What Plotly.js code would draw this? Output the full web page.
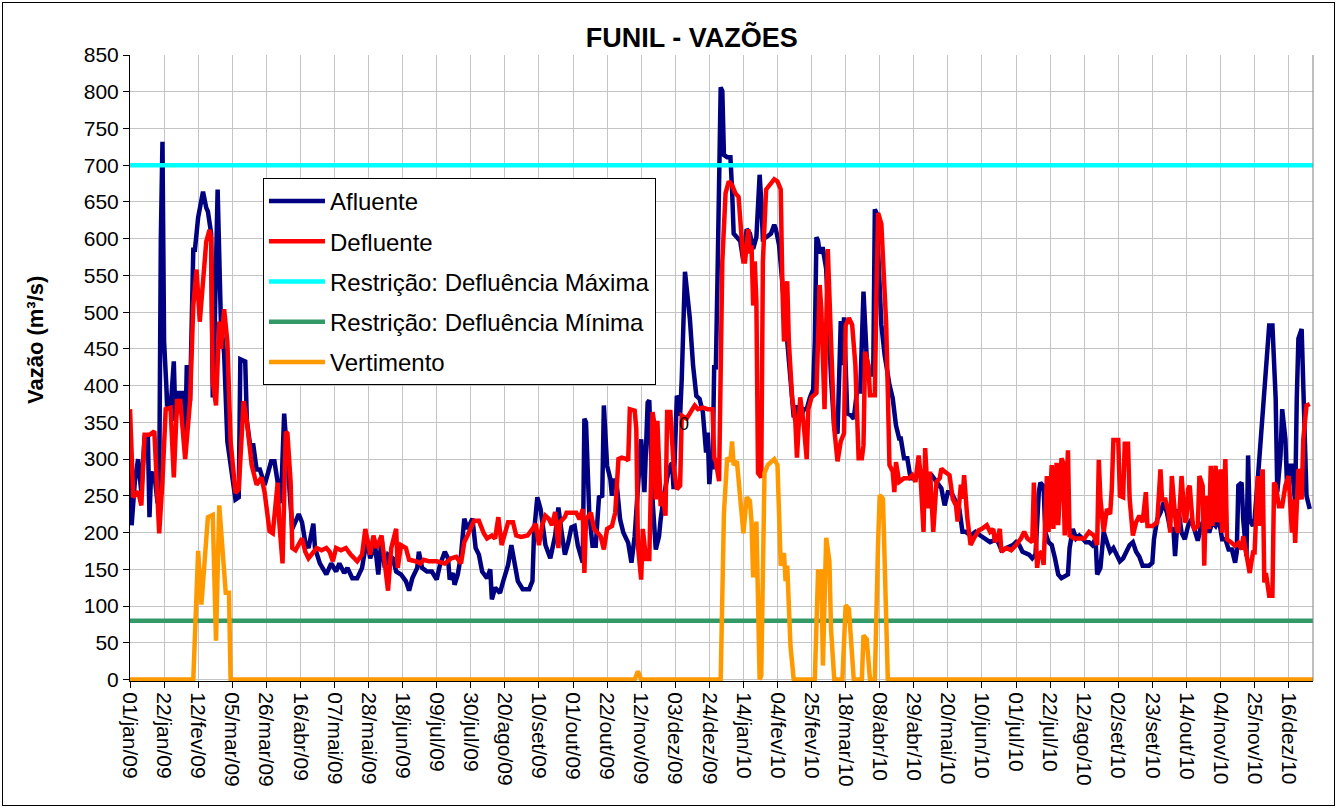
<!DOCTYPE html>
<html>
<head>
<meta charset="utf-8">
<script src="https://cdn.plot.ly/plotly-3.0.1.min.js"></script>
<style>
  body { margin: 0; background: #fff; }
  #grafico { width: 1338px; height: 809px; }
  #moldura { position: absolute; left: 2px; top: 2px; width: 1331px; height: 802px; border: 1px solid #000; pointer-events: none; }
</style>
</head>
<body>
<div id="grafico"></div>
<div id="moldura"></div>
<script>
// dias contados a partir de 01/jan/09
const diasAfluente = [0,1,3,5,7,9,11,12,13,15,17,18,19,20,21,23,25,27,28,30,32,34,35,37,39,40,42,45,47,48,50,51,52,54,56,58,60,63,65,67,68,71,72,74,76,78,80,83,87,89,91,93,95,97,99,100,104,106,108,110,113,114,117,121,124,127,129,132,134,137,140,143,146,148,151,153,155,157,159,162,164,167,170,172,174,177,178,180,183,186,189,191,194,196,197,199,200,202,204,206,208,211,213,215,217,220,222,223,225,228,230,233,235,237,239,242,246,248,249,251,253,256,259,262,264,266,268,270,272,274,276,279,280,281,283,285,287,289,291,292,294,296,297,298,300,302,304,307,309,311,313,315,317,319,320,322,324,326,327,329,332,334,335,337,338,339,340,341,342,345,347,349,351,353,355,356,357,358,359,360,361,362,363,364,365,366,368,370,371,372,374,376,378,380,382,384,386,387,388,389,390,392,395,397,398,400,402,404,405,407,409,411,413,415,417,419,421,422,423,424,425,426,427,429,430,432,434,436,438,439,440,442,444,446,448,450,452,454,456,458,459,460,463,465,468,470,472,474,475,477,479,481,483,486,489,492,494,497,500,502,504,506,508,511,513,515,518,521,524,527,530,533,535,537,540,544,546,548,550,552,554,556,558,560,561,563,564,566,568,570,572,574,576,578,579,581,583,585,587,589,591,593,595,596,598,600,602,604,606,608,610,612,614,616,618,620,622,624,628,630,631,633,635,637,639,641,643,644,646,648,650,652,654,656,658,660,662,665,667,669,671,673,675,677,679,681,682,683,685,686,688,689,690,692,693,695,697,699,700,702,704,706,707,709,710,712,713,715,716,718,719,720,722,723,725,727];
const vazaoAfluente = [327,210,270,300,254,330,333,221,281,280,240,260,600,732,460,373,368,433,352,390,390,319,428,379,585,585,629,664,642,637,607,384,460,667,487,444,324,270,245,248,436,433,352,319,319,286,286,265,297,297,268,240,362,300,250,205,225,214,187,179,212,179,158,143,158,147,158,145,152,138,138,152,192,165,183,143,192,152,170,165,147,143,134,121,138,152,174,152,147,147,136,156,174,165,136,145,129,143,170,219,205,219,179,170,147,138,150,109,125,118,134,156,183,161,134,123,123,134,201,248,232,183,165,196,234,200,170,186,207,209,182,159,355,350,227,182,182,248,250,373,291,273,250,273,264,218,200,186,159,195,264,327,255,377,380,245,177,195,218,250,286,295,259,386,382,359,409,518,555,491,427,386,382,364,309,336,266,297,286,428,422,542,728,806,801,714,711,711,667,607,602,597,569,613,607,586,602,646,687,651,600,602,607,619,613,591,537,493,460,406,357,373,351,368,368,384,395,460,602,597,580,586,586,559,504,411,341,335,488,428,493,362,360,355,392,392,528,437,415,415,640,635,483,442,401,383,346,328,328,301,301,274,274,278,283,278,278,269,260,237,255,255,246,233,201,201,196,201,196,192,187,190,187,176,179,183,187,183,174,172,170,165,170,254,268,263,201,187,183,165,143,138,141,143,179,205,192,196,192,187,187,183,192,143,152,201,187,174,179,170,161,165,174,183,187,174,167,155,155,159,191,218,227,241,227,205,205,168,232,200,191,209,218,205,189,209,218,200,214,209,218,191,191,177,177,159,173,264,268,218,168,305,218,209,218,273,336,386,418,482,482,382,255,305,368,327,264,291,291,241,382,464,477,382,250,232];

const diasDefluente = [0,1,2,5,7,9,12,15,17,18,20,22,25,27,29,31,34,37,39,41,43,45,47,49,50,51,53,55,56,58,60,62,65,67,70,72,75,78,81,83,86,88,91,92,94,95,96,97,99,100,102,106,108,110,112,115,118,121,123,125,127,130,133,136,140,143,145,148,150,152,155,157,159,161,164,165,167,170,172,176,179,181,184,189,194,198,201,204,206,208,212,215,218,220,223,225,227,229,231,233,236,238,241,245,248,250,252,254,256,258,260,262,264,265,268,269,272,275,277,279,280,281,284,286,288,290,292,294,297,299,301,303,306,307,308,311,312,313,315,316,318,320,322,323,324,325,327,328,330,331,333,335,337,339,340,343,346,348,350,353,356,359,360,361,363,364,365,367,369,371,373,375,376,378,379,381,382,383,384,385,386,387,389,390,392,394,397,399,401,402,403,404,405,406,408,410,411,413,415,417,418,420,423,425,426,428,429,430,432,434,436,438,440,441,443,445,447,448,449,451,452,453,455,456,459,460,461,463,466,467,468,470,471,472,474,477,480,482,484,486,487,489,490,492,493,495,497,499,500,502,505,507,509,510,512,513,514,516,518,520,523,525,528,530,532,533,535,536,537,540,543,546,549,551,553,556,557,559,560,562,563,564,565,566,568,569,571,572,574,575,576,578,579,582,585,588,591,594,596,597,598,600,602,604,605,606,609,610,612,613,615,616,618,620,622,624,626,627,630,633,635,636,638,640,641,642,644,645,646,648,650,651,652,653,655,656,658,659,661,662,663,665,666,667,669,670,672,673,675,676,679,681,683,685,686,688,690,692,693,695,696,698,699,700,701,702,704,705,706,708,710,712,714,716,717,718,720,721,722,723,725,727];
const vazaoDefluente = [368,297,248,256,237,333,333,338,243,199,270,368,370,275,379,379,300,379,509,558,487,536,596,612,601,406,373,487,450,504,460,324,254,259,379,352,292,265,275,254,202,199,268,214,158,246,337,335,268,179,176,192,174,165,170,179,176,179,174,161,179,176,179,170,161,170,205,170,196,179,196,152,121,179,205,152,183,179,163,161,158,163,161,161,158,165,167,158,187,196,216,216,199,192,196,192,221,183,201,214,214,196,194,196,205,212,183,210,223,219,210,228,179,214,221,227,227,227,218,232,145,218,227,205,200,195,177,205,209,227,300,302,300,298,368,366,341,182,136,205,164,164,364,350,245,352,236,255,223,364,364,291,259,264,359,355,366,373,368,370,368,368,302,297,270,406,569,662,678,673,662,657,629,569,569,613,580,591,509,569,515,281,275,569,667,673,681,678,667,537,460,526,542,460,384,351,302,384,351,300,368,384,390,537,504,368,450,586,460,341,297,324,335,482,492,483,428,378,301,301,319,446,428,387,387,528,635,620,483,392,292,283,255,296,269,274,274,278,269,305,283,201,315,233,283,201,269,274,287,283,278,246,237,215,265,246,278,219,183,192,203,205,210,201,205,187,196,205,174,179,176,183,192,201,192,187,268,152,170,174,156,214,277,201,292,205,295,210,301,295,196,312,196,192,192,192,201,196,183,299,246,201,232,225,259,326,326,250,248,321,321,246,196,214,223,214,255,209,209,214,286,245,245,227,200,277,223,205,200,277,214,218,259,264,209,205,209,277,264,155,250,205,291,209,291,214,286,200,300,191,186,182,186,177,195,173,145,173,173,277,209,286,132,145,127,114,114,268,264,236,236,264,277,200,245,186,286,282,245,327,373,375];

const diasVertimento = [0,39,42,44,48,51,53,55,59,61,62,311,313,315,364,366,368,370,371,372,374,376,378,380,382,383,384,386,387,388,389,391,393,395,397,399,401,403,404,405,407,409,422,424,426,427,429,431,432,434,439,441,443,446,451,452,454,456,459,461,462,464,465,467,729];
const vazaoVertimento = [0,0,175,102,221,224,53,237,118,118,0,0,11,0,0,226,302,297,324,292,297,253,199,248,243,215,139,215,79,0,5,281,292,297,300,292,155,172,134,155,46,0,0,147,147,19,193,161,68,0,0,101,96,0,0,60,55,0,0,187,251,246,165,0,0];

const restricaoMaxima = 700;
const restricaoMinima = 80;
const diaInicial = 0;
const diaFinal = 729;

const diasRotulos = [0,21,42,63,84,105,126,147,168,189,210,231,252,273,294,315,336,357,378,399,420,441,462,483,504,525,546,567,588,609,630,651,672,693,714];
const rotulosDatas = ['01/jan/09','22/jan/09','12/fev/09','05/mar/09','26/mar/09','16/abr/09','07/mai/09','28/mai/09','18/jun/09','09/jul/09','30/jul/09','20/ago/09','10/set/09','01/out/09','22/out/09','12/nov/09','03/dez/09','24/dez/09','14/jan/10','04/fev/10','25/fev/10','18/mar/10','08/abr/10','29/abr/10','20/mai/10','10/jun/10','01/jul/10','22/jul/10','12/ago/10','02/set/10','23/set/10','14/out/10','04/nov/10','25/nov/10','16/dez/10'];

const fonte = 'Liberation Sans, Arial, sans-serif';

function serie(nome, dias, valores, cor) {
    return {
        x: dias,
        y: valores,
        type: 'scatter',
        mode: 'lines',
        name: nome,
        legendgroup: nome,
        line: { color: cor, width: 4.5 },
        hoverinfo: 'skip'
    };
}

const traces = [
    serie('Afluente', diasAfluente, vazaoAfluente, '#000080'),
    serie('Defluente', diasDefluente, vazaoDefluente, '#FF0000'),
    serie('Restrição: Defluência Máxima', [diaInicial, diaFinal], [restricaoMaxima, restricaoMaxima], '#00FFFF'),
    serie('Restrição: Defluência Mínima', [diaInicial, diaFinal], [restricaoMinima, restricaoMinima], '#339966'),
    serie('Vertimento', diasVertimento, vazaoVertimento, '#FF9900')
];

const layout = {
    width: 1338,
    height: 809,
    margin: { l: 130, r: 25, t: 55, b: 128, pad: 0 },
    paper_bgcolor: '#fff',
    plot_bgcolor: '#fff',
    font: { family: fonte, color: '#000' },
    title: {
        text: '<b>FUNIL - VAZÕES</b>',
        font: { family: fonte, size: 27, color: '#000' },
        xref: 'container', x: 0.517, xanchor: 'center',
        yref: 'container', y: 0.953, yanchor: 'middle'
    },
    xaxis: {
        range: [diaInicial, diaFinal],
        tickmode: 'array',
        tickvals: diasRotulos,
        ticktext: rotulosDatas,
        tickangle: 90,
        tickfont: { family: fonte, size: 21, color: '#000' },
        ticks: 'outside', ticklen: 6, tickcolor: '#000',
        showline: true, linecolor: '#000', linewidth: 1,
        showgrid: true, gridcolor: '#c4c4c4', gridwidth: 1,
        zeroline: false
    },
    yaxis: {
        range: [-2, 850],
        dtick: 50,
        tickfont: { family: fonte, size: 21, color: '#000' },
        ticks: 'outside', ticklen: 6, tickcolor: '#000',
        showline: true, linecolor: '#000', linewidth: 1,
        showgrid: true, gridcolor: '#c4c4c4', gridwidth: 1,
        zeroline: false
    },
    legend: {
        x: 0.1124, y: 0.8035, xanchor: 'left', yanchor: 'top',
        bgcolor: '#fff', bordercolor: '#000', borderwidth: 1,
        font: { family: fonte, size: 24, color: '#000' },
        traceorder: 'grouped', tracegroupgap: 6,
        itemwidth: 56
    },
    shapes: [
        { type: 'line', xref: 'paper', yref: 'paper', x0: 1, x1: 1, y0: 0, y1: 1, line: { color: '#808080', width: 1 } }
    ],
    annotations: [
        { x: 341.5, y: 348, text: '0', showarrow: false, font: { family: fonte, size: 18, color: '#000' } },
        {
            xref: 'paper', yref: 'paper', x: -0.0803, y: 0.5447,
            xanchor: 'center', yanchor: 'middle', textangle: -90, showarrow: false,
            text: '<b>Vazão (m³/s)</b>', font: { family: fonte, size: 22, color: '#000' }
        }
    ],
    showlegend: true
};

Plotly.newPlot('grafico', traces, layout, { displayModeBar: false, staticPlot: true });
</script>
</body>
</html>
